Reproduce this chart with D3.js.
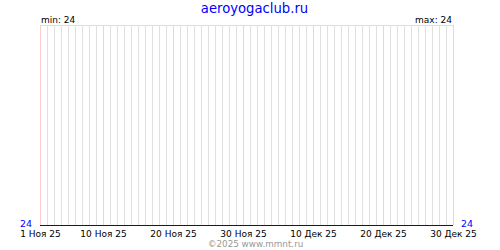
<!DOCTYPE html>
<html><head><meta charset="utf-8">
<script src="https://cdn.jsdelivr.net/npm/d3@7"></script>
<style>body{margin:0;background:#fff}svg{display:block}text{font-family:"DejaVu Sans",Verdana,sans-serif}</style>
</head><body>
<script>
const title = "aeroyogaclub.ru";
const footer = "©2025 www.mmnt.ru";
const startDate = "2025-11-01";
const endDate = "2025-12-30";
const values = [24,24,24,24,24,24,24,24,24,24,24,24,24,24,24,24,24,24,24,24,
24,24,24,24,24,24,24,24,24,24,24,24,24,24,24,24,24,24,24,24,
24,24,24,24,24,24,24,24,24,24,24,24,24,24,24,24,24,24,24,24];
const tickDates = ["2025-11-01","2025-11-10","2025-11-20","2025-11-30","2025-12-10","2025-12-20","2025-12-30"];
const tickLabels = ["1 Ноя 25","10 Ноя 25","20 Ноя 25","30 Ноя 25","10 Дек 25","20 Дек 25","30 Дек 25"];
const minLabel = "min: 24", maxLabel = "max: 24";
const yMin = 24, yMax = 24;

const W = 500, H = 250;
const m = {l:40, r:47, t:25, b:25};
const parse = d3.utcParse("%Y-%m-%d");
const svg = d3.select("body").append("svg").attr("width", W).attr("height", H);
const x = d3.scaleUtc().domain([parse(startDate), parse(endDate)]).range([m.l, W - m.r]);
const y = d3.scaleLinear().domain([yMin, yMin + 1]).range([H - m.b, m.t]);

const days = d3.utcDay.range(parse(startDate), d3.utcDay.offset(parse(endDate), 1));
const tickSet = new Set(tickDates);
const fmt = d3.utcFormat("%Y-%m-%d");

// top border
svg.append("line").attr("x1", m.l).attr("x2", W - m.r).attr("y1", m.t + 0.5).attr("y2", m.t + 0.5)
  .attr("stroke", "#dddddd");
// vertical grid
svg.append("g").selectAll("line").data(days).join("line")
  .attr("x1", d => Math.round(x(d)) + 0.5).attr("x2", d => Math.round(x(d)) + 0.5)
  .attr("y1", m.t).attr("y2", H - m.b)
  .attr("stroke", d => tickSet.has(fmt(d)) ? "#ffcccc" : "#e0e0e0");

// x axis labels
const xAxis = d3.axisBottom(x).tickValues(tickDates.map(parse)).tickSize(0)
  .tickFormat((d, i) => tickLabels[i]);
const gx = svg.append("g").attr("transform", `translate(0,${H - m.b})`).call(xAxis);
gx.select(".domain").remove();
gx.selectAll("text").attr("fill", "#000").attr("font-size", 9).attr("dy", 0)
  .attr("y", 11.5).style("font-family", "'DejaVu Sans',Verdana,sans-serif");

// data line
const line = d3.line().x((d, i) => x(days[i])).y(d => Math.round(y(d)) + 0.5);
svg.append("path").datum(values.slice(0, days.length)).attr("d", line)
  .attr("fill", "none").attr("stroke", "#0000ee").attr("stroke-width", 1);

// y labels
svg.append("text").attr("x", m.l - 8).attr("y", y(yMin) + 1.5).attr("text-anchor", "end")
  .attr("fill", "#0000ff").attr("font-size", 9.5).text(yMin);
svg.append("text").attr("x", W - m.r + 8).attr("y", y(yMin) + 1.5).attr("text-anchor", "start")
  .attr("fill", "#0000ff").attr("font-size", 9.5).text(yMax);

// min/max
svg.append("text").attr("x", m.l + 1).attr("y", 23).attr("font-size", 9).attr("fill", "#000").text(minLabel);
svg.append("text").attr("x", W - m.r - 1).attr("y", 23).attr("text-anchor", "end").attr("font-size", 9).attr("fill", "#000").text(maxLabel);

// title
svg.append("text").attr("x", 254.5).attr("y", 13).attr("text-anchor", "middle")
  .attr("font-size", 13.2).attr("fill", "#0000ff").text(title);
// footer
svg.append("text").attr("x", 255.5).attr("y", 246.5).attr("text-anchor", "middle")
  .attr("font-size", 8.8).attr("fill", "#999999").text(footer);
</script>
</body></html>
